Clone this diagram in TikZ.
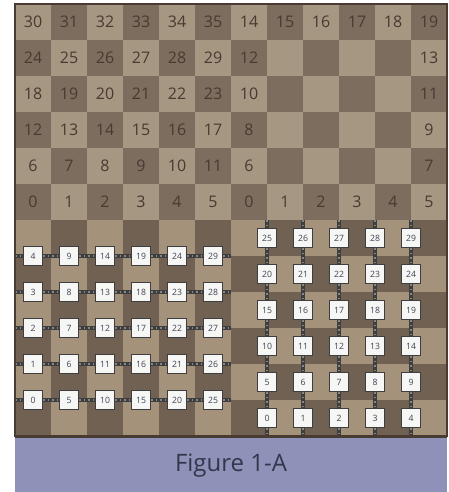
\documentclass[tikz,border=0pt]{standalone}
\usepackage{fontspec}
\setmainfont{Open Sans}
\definecolor{lightc}{RGB}{166,151,131}
\definecolor{darkc}{RGB}{124,109,95}
\definecolor{lightb}{RGB}{164,146,122}
\definecolor{darkb}{RGB}{112,97,82}
\definecolor{numc}{RGB}{72,58,48}
\definecolor{bordc}{RGB}{72,60,50}
\definecolor{bluec}{RGB}{142,146,184}
\definecolor{captc}{RGB}{52,54,76}
\definecolor{boxb}{RGB}{62,62,64}
\definecolor{boxf}{RGB}{246,246,244}
\definecolor{boxt}{RGB}{62,66,84}
\definecolor{linkd}{RGB}{62,62,62}
\definecolor{linkl}{RGB}{135,135,135}
\tikzset{
  num/.style={font=\fontsize{12}{13}\selectfont, text=numc, inner sep=0pt},
  box/.style={draw=boxb, line width=1pt, fill=boxf, minimum size=14.25pt, inner sep=0pt, font=\fontsize{6.5}{7}\selectfont, text=boxt},
  link/.style={draw=linkd, line width=3.4pt, postaction={draw=linkl, line width=0.8pt, dash pattern=on 1.2pt off 2.2pt}},
  capt/.style={font=\fontsize{18}{20}\selectfont, text=captc}
}
\begin{document}
\begin{tikzpicture}[x=0.75pt,y=-0.75pt]
\useasboundingbox (0,0) rectangle (449,492);
\fill[white] (0,0) rectangle (449,492);
% top checkerboard
\foreach \r in {0,...,5} \foreach \c in {0,...,11} {
  \pgfmathtruncatemacro\p{mod(\r+\c,2)}
  \ifnum\p=0 \def\cc{lightc}\else\def\cc{darkc}\fi
  \fill[\cc] ({15+36*\c},{4+36*\r}) rectangle ++(36,36);
}
% bottom checkerboard
\foreach \r in {6,...,11} \foreach \c in {0,...,11} {
  \pgfmathtruncatemacro\p{mod(\r+\c,2)}
  \ifnum\p=0 \def\cc{lightb}\else\def\cc{darkb}\fi
  \fill[\cc] ({15+36*\c},{4+36*\r}) rectangle ++(36,36);
}
% top-left numbers
\foreach \r in {0,...,5} \foreach \c in {0,...,5} {
  \pgfmathtruncatemacro\n{(5-\r)*6+\c}
  \node[num] (tl\n) at ({33+36*\c},{22+36*\r}) {\n};
}
% top-right numbers
\foreach \c in {0,...,5} {
  \pgfmathtruncatemacro\n{14+\c}
  \node[num] (tr\n) at ({249+36*\c},22) {\n};
  \node[num] (tr\c) at ({249+36*\c},202) {\c};
}
\foreach \r in {1,...,4} {
  \pgfmathtruncatemacro\n{14-2*\r}
  \pgfmathtruncatemacro\m{15-2*\r}
  \node[num] (tr\n) at (249,{22+36*\r}) {\n};
  \node[num] (tr\m) at (429,{22+36*\r}) {\m};
}
% left boxes
\foreach \n in {0,...,29} {
  \pgfmathtruncatemacro\c{int(\n/5)}
  \pgfmathtruncatemacro\r{mod(\n,5)}
  \node[box] (L\n) at ({33+36*\c},{400-36*\r}) {\n};
}
% right boxes
\foreach \n in {0,...,29} {
  \pgfmathtruncatemacro\r{int(\n/5)}
  \pgfmathtruncatemacro\c{mod(\n,5)}
  \node[box] (R\n) at ({267+36*\c},{418-36*\r}) {\n};
}
% left links
\foreach \r in {0,...,4} {
  \coordinate (ls\r) at (15,{400-36*\r});
  \coordinate (le\r) at (231,{400-36*\r});
  \draw[link] (ls\r) -- (L\r);
  \foreach \c in {0,...,4} {
    \pgfmathtruncatemacro\a{\c*5+\r}
    \pgfmathtruncatemacro\b{\c*5+5+\r}
    \draw[link] (L\a) -- (L\b);
  }
  \pgfmathtruncatemacro\z{25+\r}
  \draw[link] (L\z) -- (le\r);
}
% right links
\foreach \c in {0,...,4} {
  \coordinate (rs\c) at ({267+36*\c},220);
  \coordinate (re\c) at ({267+36*\c},436);
  \pgfmathtruncatemacro\z{25+\c}
  \draw[link] (rs\c) -- (R\z);
  \foreach \r in {0,...,4} {
    \pgfmathtruncatemacro\a{\r*5+\c}
    \pgfmathtruncatemacro\b{\r*5+5+\c}
    \draw[link] (R\b) -- (R\a);
  }
  \draw[link] (R\c) -- (re\c);
}
% border
\draw[bordc, line width=1.5pt] (15,4) rectangle (447,436);
% caption band
\fill[bluec] (15,437) rectangle (447,492);
\draw[bordc, line width=1.5pt] (15,437) -- (447,437);
\node[capt] (cap) at (231,466) {Figure 1-A};
\end{tikzpicture}
\end{document}
